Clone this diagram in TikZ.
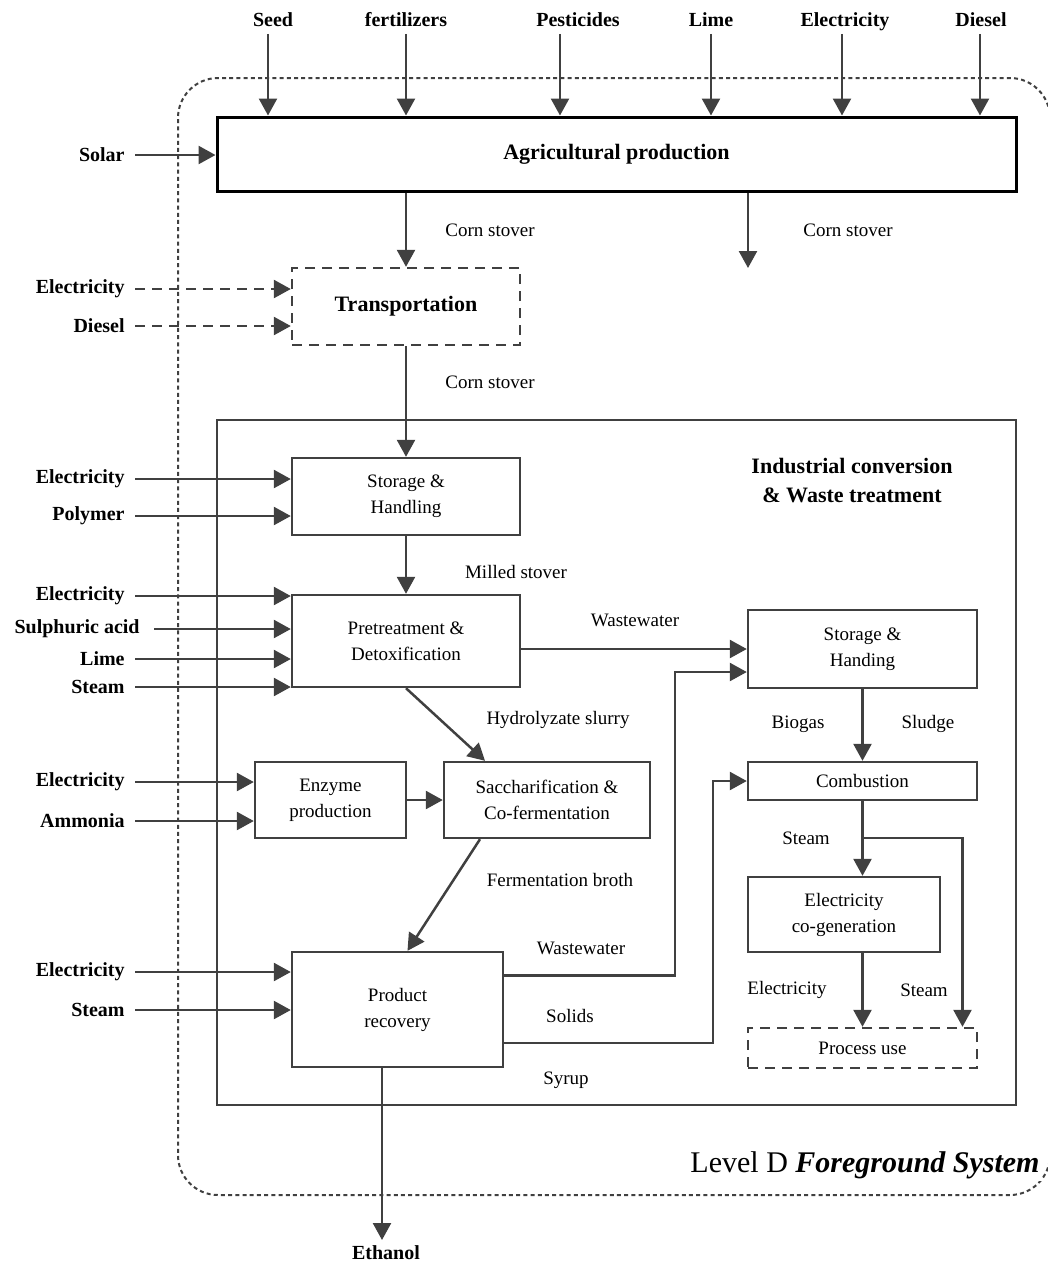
\documentclass[tikz,border=0pt]{standalone}
\usepackage{fontspec}
\setmainfont{Liberation Serif}
\usepackage{tikz}
\usetikzlibrary{arrows.meta}
\definecolor{darkline}{RGB}{64,64,64}

\begin{document}
\begin{tikzpicture}[x=0.5pt,y=-0.5pt,
		flow/.style={draw=darkline,line width=1.25pt,-{Triangle[length=8.5pt,width=9pt]}},
		dflow/.style={flow,dash pattern=on 5pt off 3.5pt},
		box/.style={draw=darkline,line width=1.2pt,align=center,inner sep=2pt,font=\fontsize{9.5}{13}\selectfont},
		dbox/.style={box,dash pattern=on 5pt off 3.5pt},
		inlbl/.style={anchor=east,inner sep=1pt,font=\fontsize{10}{12}\selectfont\bfseries},
		toplbl/.style={inner sep=1pt,text height=7pt,text depth=2.5pt,font=\fontsize{10}{12}\selectfont\bfseries},
		lbl/.style={inner sep=1pt,font=\fontsize{9.5}{12}\selectfont}]
		\useasboundingbox (0,0) rectangle (1048,1265);
		\clip (0,0) rectangle (1048,1265);
		% system boundary
		\draw[darkline,line width=1pt,dash pattern=on 2pt off 1.6pt,rounded corners=20pt] (1050,1140) -- (1050,78) -- (178,78) -- (178,1195) -- (1050,1195) -- cycle;
		\node[anchor=east,inner sep=1pt,fill=white,font=\fontsize{15}{18}\selectfont] (level) at (1042,1165) {Level D \textbf{\textit{Foreground System}}};
		% industrial frame
		\draw[darkline,line width=1.2pt] (217,420) rectangle (1016,1105);
		\node[align=center,inner sep=1pt,font=\fontsize{11}{14.5}\selectfont\bfseries] (indus) at (852,481) {Industrial conversion\\ \& Waste treatment};

		% process boxes
		\node[box,draw=black,line width=1.5pt,minimum width=399.5pt,minimum height=37pt,font=\fontsize{11}{13}\selectfont\bfseries] (agri) at (616.5,154) {Agricultural production};
		\node[dbox,minimum width=114pt,minimum height=38.5pt,font=\fontsize{11}{13}\selectfont\bfseries] (transp) at (406,306.5) {Transportation};
		\node[box,minimum width=114pt,minimum height=38.5pt] (storage) at (406,496.5) {Storage \&\\Handling};
		\node[box,minimum width=114pt,minimum height=46pt] (pretreat) at (406,641) {Pretreatment \&\\Detoxification};
		\node[box,minimum width=114.5pt,minimum height=39pt] (wwstore) at (862.5,649) {Storage \&\\Handing};
		\node[box,minimum width=75.5pt,minimum height=38pt] (enzyme) at (330.5,800) {Enzyme\\production};
		\node[box,minimum width=103pt,minimum height=38pt] (sacch) at (547,800) {Saccharification \&\\Co-fermentation};
		\node[box,minimum width=105.5pt,minimum height=57.5pt] (recovery) at (397.5,1009.5) {Product\\recovery};
		\node[box,minimum width=114.5pt,minimum height=19pt] (combust) at (862.5,781) {Combustion};
		\node[box,minimum width=96pt,minimum height=37.5pt] (cogen) at (844,914.5) {Electricity\\co-generation};
		\node[dbox,minimum width=114.5pt,minimum height=20pt] (procuse) at (862.5,1048) {Process use};

		% top inputs
		\node[toplbl] (seed) at (273,22) {Seed};
		\node[toplbl] (fert) at (406,22) {fertilizers};
		\node[toplbl] (pest) at (578,22) {Pesticides};
		\node[toplbl] (lime) at (711,22) {Lime};
		\node[toplbl] (elec) at (845,22) {Electricity};
		\node[toplbl] (dies) at (981,22) {Diesel};
		\draw[flow] ([xshift=-2.5pt]seed.south) -- ([xshift=-2.5pt]seed.south |- agri.north);
		\draw[flow] (fert.south) -- (fert.south |- agri.north);
		\draw[flow] ([xshift=-9pt]pest.south) -- ([xshift=-9pt]pest.south |- agri.north);
		\draw[flow] (lime.south) -- (lime.south |- agri.north);
		\draw[flow] ([xshift=-1.5pt]elec.south) -- ([xshift=-1.5pt]elec.south |- agri.north);
		\draw[flow] ([xshift=-0.5pt]dies.south) -- ([xshift=-0.5pt]dies.south |- agri.north);

		% side inputs
		\node[inlbl] (solar) at (127,155) {Solar};
		\node[inlbl] (telec) at (127,289) {Electricity};
		\node[inlbl] (tdies) at (127,326) {Diesel};
		\node[inlbl] (selec) at (127,479) {Electricity};
		\node[inlbl] (spoly) at (127,516) {Polymer};
		\node[inlbl] (pelec) at (127,596) {Electricity};
		\node[inlbl] (pacid) at (142,629) {Sulphuric acid};
		\node[inlbl] (plime) at (127,659) {Lime};
		\node[inlbl] (psteam) at (127,687) {Steam};
		\node[inlbl] (eelec) at (127,782) {Electricity};
		\node[inlbl] (eammo) at (127,821) {Ammonia};
		\node[inlbl] (relec) at (127,972) {Electricity};
		\node[inlbl] (rsteam) at (127,1010) {Steam};
		\draw[flow] ([xshift=4pt]solar.east) -- (solar.east -| agri.west);
		\draw[dflow] ([xshift=4pt]telec.east) -- (telec.east -| transp.west);
		\draw[dflow] ([xshift=4pt]tdies.east) -- (tdies.east -| transp.west);
		\draw[flow] ([xshift=4pt]selec.east) -- (selec.east -| storage.west);
		\draw[flow] ([xshift=4pt]spoly.east) -- (spoly.east -| storage.west);
		\draw[flow] ([xshift=4pt]pelec.east) -- (pelec.east -| pretreat.west);
		\draw[flow] ([xshift=6pt]pacid.east) -- (pacid.east -| pretreat.west);
		\draw[flow] ([xshift=4pt]plime.east) -- (plime.east -| pretreat.west);
		\draw[flow] ([xshift=4pt]psteam.east) -- (psteam.east -| pretreat.west);
		\draw[flow] ([xshift=4pt]eelec.east) -- (eelec.east -| enzyme.west);
		\draw[flow] ([xshift=4pt]eammo.east) -- (eammo.east -| enzyme.west);
		\draw[flow] ([xshift=4pt]relec.east) -- (relec.east -| recovery.west);
		\draw[flow] ([xshift=4pt]rsteam.east) -- (rsteam.east -| recovery.west);

		% main flows
		\coordinate (stoverout) at (748,268);
		\draw[flow] (agri.south -| transp.north) -- (transp.north);
		\draw[flow] (agri.south -| stoverout) -- (stoverout);
		\draw[flow] (transp.south) -- (storage.north);
		\draw[flow] (storage.south) -- (pretreat.north);
		\draw[flow] (pretreat.east |- wwstore.west) -- (wwstore.west);
		\draw[flow] (pretreat.south) -- ([xshift=-31pt]sacch.north);
		\draw[flow] (enzyme.east) -- (sacch.west);
		\draw[flow] ([xshift=-33.5pt]sacch.south) -- ([xshift=5pt]recovery.north);
		\draw[flow] ([yshift=17pt]recovery.east) -- ++(85.5pt,0) |- ([yshift=-11.5pt]wwstore.west);
		\draw[flow] ([yshift=-16.75pt]recovery.east) -- ++(104.5pt,0) |- (combust.west);
		\draw[flow] (wwstore.south) -- (combust.north);
		\coordinate (split) at (862.5,838);
		\draw[flow] (combust.south) -- (combust.south |- cogen.north);
		\draw[flow] (split) -| ([xshift=50pt]procuse.north);
		\draw[flow] (procuse.north |- cogen.south) -- (procuse.north);
		\node[toplbl] (ethanol) at (386,1255) {Ethanol};
		\draw[flow] (recovery.south -| 382,0) -- (382,1240);

		% flow labels
		\node[lbl] (cs1) at (490,230) {Corn stover};
		\node[lbl] (cs2) at (848,230) {Corn stover};
		\node[lbl] (cs3) at (490,382) {Corn stover};
		\node[lbl] (milled) at (516,572) {Milled stover};
		\node[lbl] (ww1) at (635,620) {Wastewater};
		\node[lbl] (hydro) at (558,720) {Hydrolyzate slurry};
		\node[lbl] (broth) at (560,880) {Fermentation broth};
		\node[lbl] (ww2) at (581,948) {Wastewater};
		\node[lbl] (solids) at (570,1016) {Solids};
		\node[lbl] (syrup) at (566,1080) {Syrup};
		\node[lbl] (biogas) at (798,724) {Biogas};
		\node[lbl] (sludge) at (928,724) {Sludge};
		\node[lbl] (steam1) at (806,838) {Steam};
		\node[lbl] (elec2) at (787,990) {Electricity};
		\node[lbl] (steam2) at (924,990) {Steam};
	\end{tikzpicture}
\end{document}
